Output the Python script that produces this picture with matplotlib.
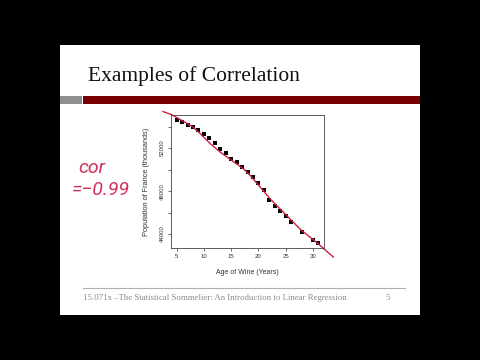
import matplotlib
matplotlib.use('Agg')
import matplotlib.pyplot as plt
from matplotlib.patches import Rectangle

# wine age vs population of France
age = [5, 6, 7, 8, 9, 10, 11, 12, 13, 14, 15, 16, 17, 18, 19, 20, 21, 22, 23, 24, 25, 26, 28, 30, 31]
pop = [54623, 54407, 54186, 53967, 53716, 53340, 52906, 52468, 51906, 51500, 51030, 50688,
       50250, 49810, 49342, 48780, 48130, 47129, 46600, 46130, 45660, 45160, 44225, 43475, 43160]

# hand drawn red line on the slide
ink_x = [2.49, 4.03, 6.34, 7.99, 9.40, 11.24, 13.07, 15.22, 17.35, 18.58, 20.41, 22.25, 24.69, 27.75, 30.82, 33.75]
ink_y = [55400, 55120, 54464, 53967, 53311, 52375, 51597, 50810, 50033, 49406, 48319, 47222, 45976, 44412, 43166, 41855]

x_ticks = [5, 10, 15, 20, 25, 30]
y_ticks = [44000, 46000, 48000, 50000, 52000, 54000]
y_labels = ['44000', '', '48000', '', '52000', '']

title = 'Examples of Correlation'
footer = '15.071x \u2013The Statistical Sommelier: An Introduction to Linear Regression'
ink = '#cc1f3f'

W, H = 480, 360
def fx(x):
    return x / W
def fy(y):
    return 1 - y / H

fig = plt.figure(figsize=(4.8, 3.6), dpi=100)
fig.patch.set_facecolor('black')

# slide background and header bars
fig.add_artist(Rectangle((fx(60), fy(315)), 360 / W, 270 / H, transform=fig.transFigure,
                         facecolor='white', edgecolor='none', zorder=-10))
fig.add_artist(Rectangle((fx(60), fy(104)), 21.5 / W, 8 / H, transform=fig.transFigure,
                         facecolor='#8f8f8f', edgecolor='none', zorder=-5))
fig.add_artist(Rectangle((fx(83), fy(104)), 337 / W, 8 / H, transform=fig.transFigure,
                         facecolor='#780000', edgecolor='none', zorder=-5))
fig.text(fx(88), fy(81), title, fontsize=15.5, family='Liberation Serif', color='#111111', va='baseline')

# footer
fig.add_artist(plt.Line2D([fx(83), fx(405)], [fy(288), fy(288)], transform=fig.transFigure,
                          color='#b0b0b0', lw=0.8, zorder=-5))
fig.text(fx(83), fy(298), footer, fontsize=6.3, family='Liberation Serif', color='#8a8a8a', va='center')
fig.text(fx(388), fy(298), '5', fontsize=6.3, family='Liberation Serif', color='#8a8a8a', va='center', ha='center')

# handwriting
hand = ['Roboto', 'DejaVu Sans']
fig.text(fx(78), fy(173), 'cor', fontsize=14, color='#d0305a', va='baseline', family=hand, style='italic')
fig.text(fx(72), fy(195), '=\u22120.99', fontsize=14, color='#d0305a', va='baseline', family=hand, style='italic')

# the R scatter plot
ax = fig.add_axes([fx(171), fy(248), 153 / W, 133 / H])
ax.set_facecolor('none')
ax.plot(age, pop, 's', color='black', ms=3, mew=0)
ax.margins(x=0.04, y=0.04)
ax.autoscale_view()
ax.set_xlim(ax.get_xlim())
ax.set_ylim(ax.get_ylim())
ax.set_xticks(x_ticks)
ax.set_yticks(y_ticks)
ax.set_yticklabels(y_labels, rotation=90, va='center')
ax.tick_params(labelsize=4.3, length=2.3, width=0.5, color='#333333', labelcolor='#333333', pad=2)
for lab in ax.get_xticklabels() + ax.get_yticklabels():
    lab.set_family('Liberation Sans')
for s in ax.spines.values():
    s.set_linewidth(0.6)
    s.set_color('#444444')
ax.set_xlabel('Age of Wine (Years)', fontsize=5, family='Liberation Sans', color='#333333', labelpad=7)
ax.set_ylabel('Population of France (thousands)', fontsize=5.3, family='Liberation Sans', color='#333333', labelpad=7)
ax.plot(ink_x, ink_y, color=ink, lw=1.0, clip_on=False)

fig.savefig('out.png', dpi=100, facecolor='black')
